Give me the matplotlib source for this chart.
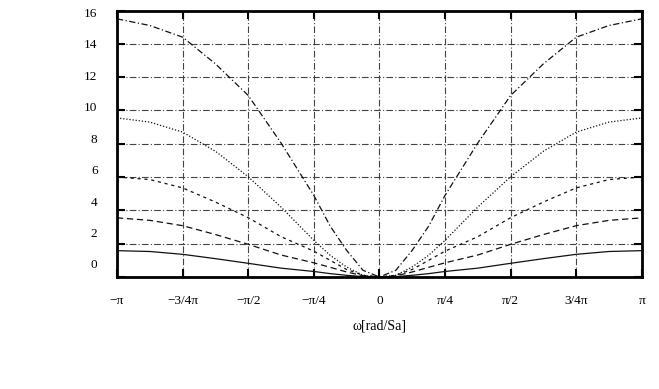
import matplotlib
matplotlib.use("Agg")
import matplotlib.pyplot as plt
import numpy as np

# omega in units of pi, read at pi/16 .. pi/8 steps
w = [-1, -7/8, -3/4, -5/8, -1/2, -3/8, -1/4, -3/16, -1/8, -1/16, 0,
     1/16, 1/8, 3/16, 1/4, 3/8, 1/2, 5/8, 3/4, 7/8, 1]

c1 = [1.58, 1.53, 1.36, 1.10, 0.82, 0.53, 0.33, 0.20, 0.10, 0.02, 0,
      0.02, 0.10, 0.20, 0.33, 0.53, 0.82, 1.10, 1.36, 1.53, 1.58]
c2 = [3.55, 3.40, 3.08, 2.55, 1.96, 1.32, 0.85, 0.58, 0.30, 0.07, 0,
      0.07, 0.30, 0.58, 0.85, 1.32, 1.96, 2.55, 3.08, 3.40, 3.55]
c3 = [6.00, 5.85, 5.35, 4.50, 3.56, 2.42, 1.55, 1.00, 0.45, 0.10, 0,
      0.10, 0.45, 1.00, 1.55, 2.42, 3.56, 4.50, 5.35, 5.85, 6.00]
c4 = [9.55, 9.30, 8.70, 7.55, 6.02, 4.20, 2.20, 1.30, 0.60, 0.10, 0,
      0.10, 0.60, 1.30, 2.20, 4.20, 6.02, 7.55, 8.70, 9.30, 9.55]
c5 = [15.5, 15.1, 14.4, 12.8, 10.9, 8.05, 4.90, 3.05, 1.60, 0.40, 0,
      0.40, 1.60, 3.05, 4.90, 8.05, 10.9, 12.8, 14.4, 15.1, 15.5]

xticks = [-1, -3/4, -1/2, -1/4, 0, 1/4, 1/2, 3/4, 1]
xlabels = ["\u2212\u03c0", "\u22123/4\u03c0", "\u2212\u03c0/2", "\u2212\u03c0/4", "0",
           "\u03c0/4", "\u03c0/2", "3/4\u03c0", "\u03c0"]
yticks = [0, 2, 4, 6, 8, 10, 12, 14, 16]

plt.rcParams['font.family'] = ['Liberation Serif', 'DejaVu Serif']

fig = plt.figure(figsize=(6.59, 3.89), dpi=100)
ax = fig.add_axes([0.1775, 0.288, 0.7965, 0.685])

x = np.array(w) * np.pi
ax.plot(x, c1, color='#111111', lw=0.9, linestyle='-')
ax.plot(x, c2, color='#111111', lw=0.9, linestyle=(0, (5, 3)))
ax.plot(x, c3, color='#111111', lw=0.9, linestyle=(0, (2.5, 3)))
ax.plot(x, c4, color='#111111', lw=0.9, linestyle=(0, (1, 1.5)))
ax.plot(x, c5, color='#111111', lw=0.9, linestyle=(0, (5, 2, 1, 2)))

ax.set_xlim(-np.pi, np.pi)
ax.set_ylim(0, 16)
ax.set_xticks(np.array(xticks) * np.pi)
ax.set_xticklabels(xlabels, fontsize=9.5)
ax.set_yticks(yticks)
ax.set_yticklabels([])
ax.grid(True, color='#444444', lw=0.8, linestyle=(0, (6, 2, 1, 2)))
ax.tick_params(direction='in', length=6, width=1.5, top=True, right=True,
               pad=13)
for s in ax.spines.values():
    s.set_linewidth(2)

# y labels sit slightly off their grid lines, as in the reference
for v in yticks:
    ax.text(-0.037, 0.69 + v * 0.945, str(v), transform=ax.get_yaxis_transform(),
            ha='right', va='center', fontsize=9.5)

ax.set_xlabel("\u03c9[rad/Sa]", fontsize=10, labelpad=9)

fig.savefig("out.png", dpi=100)
